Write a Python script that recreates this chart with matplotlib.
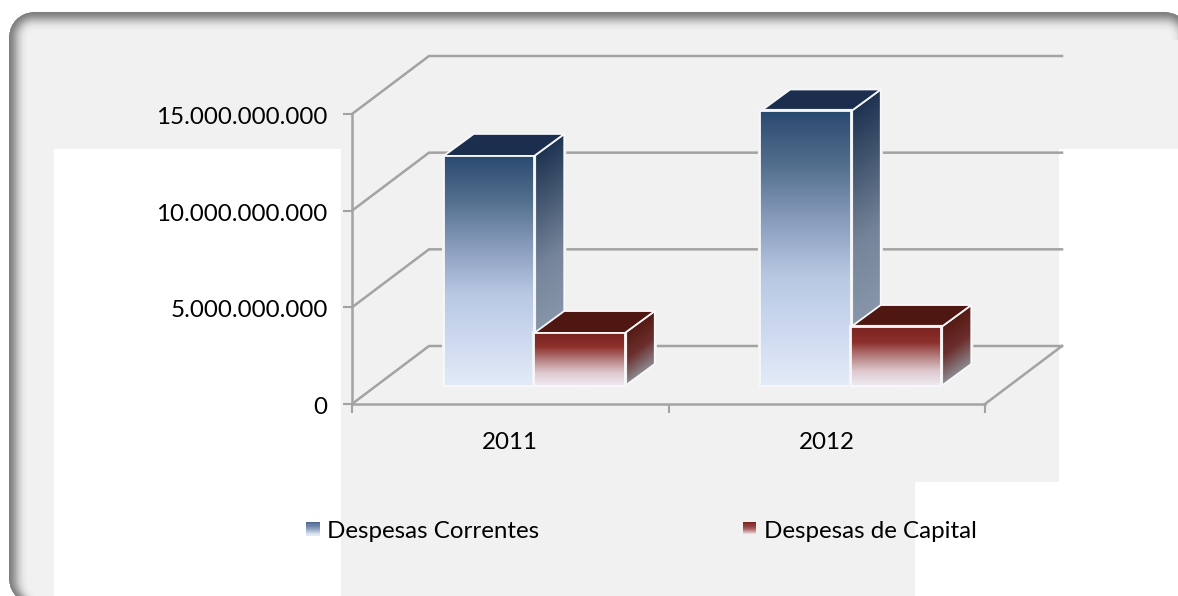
import numpy as np
import matplotlib
matplotlib.use("Agg")
import matplotlib.pyplot as plt
from matplotlib.colors import LinearSegmentedColormap
from matplotlib.legend_handler import HandlerBase
from matplotlib.patches import Polygon, Rectangle
from matplotlib.ticker import FuncFormatter
from matplotlib.transforms import Affine2D, IdentityTransform

# ---- data ----
years = ["2011", "2012"]
series_names = ["Despesas Correntes", "Despesas de Capital"]
despesas_correntes = [11.9e9, 14.2e9]
despesas_capital = [2.74e9, 3.05e9]
y_ticks = [0, 5e9, 10e9, 15e9]

# ---- styles ----
W, H = 1178, 596
FONT = "Lato"
FS = 17.4
AXC = "#a3a3a3"
BAR_W = 0.286
STYLES = [
    dict(front=["#2b4a70", "#54708f", "#8a9dbd", "#b8c8e3", "#cdd9f0", "#e3ebf7"],
         side=["#1d3350", "#75849a", "#95a3b5"], top="#1b2e4e"),
    dict(front=["#7a2422", "#8c2f2b", "#b57f7f", "#ddc8cd", "#eeeaf2"],
         side=["#551a14", "#6c2e2c", "#8a8a90"], top="#4e1712"),
]
LEG = [["#4f6a90", "#8fa3c2", "#dfe8f5"], ["#7a2422", "#a86060", "#f5eef0"]]

plt.rcParams["font.family"] = [FONT, "DejaVu Sans"]
fig = plt.figure(figsize=(W / 100, H / 100), dpi=100, facecolor="white")


# ---- panel background with the soft grey border and white cut-outs ----
def panel():
    yy, xx = np.mgrid[0:H, 0:W] + 0.5
    l, t, r, b, rad = 9, 12, 1190, 604, 25
    cx, cy = (l + r) / 2, (t + b) / 2
    qx = np.abs(xx - cx) - ((r - l) / 2 - rad)
    qy = np.abs(yy - cy) - ((b - t) / 2 - rad)
    sd = np.hypot(np.maximum(qx, 0), np.maximum(qy, 0)) + np.minimum(np.maximum(qx, qy), 0) - rad
    depth = -sd
    # no bottom band: below the corner centre measure from the curve sideways
    low = yy > b - rad
    depth[low] = xx[low] - (l + rad - np.sqrt(np.maximum(rad ** 2 - (yy[low] - (b - rad)) ** 2, 0)))
    f = np.interp(depth, [0, 3, 6, 10, 14, 19], [0.0, 0.12, 0.35, 0.68, 0.9, 1.0])
    g = 0.49 + (0.949 - 0.49) * f
    img = np.where(depth < 0, 1.0, g)
    edge = np.clip(depth + 0.5, 0, 1)
    img = img * edge + (1 - edge)
    img[(xx >= 1100) & (yy >= 40)] = 0.949
    img[(xx >= 54) & (xx < 341) & (yy >= 149)] = 1
    img[(xx >= 1059) & (yy >= 149)] = 1
    img[(xx >= 915) & (yy >= 482)] = 1
    return np.dstack([img, img, img])


fig.figimage(panel(), 0, 0, origin="upper", zorder=-5)

ax = fig.add_axes([352 / W, 1 - 404 / H, 633 / W, 290 / H])
ax.patch.set_visible(False)
ax.set_xlim(0, 2)
ax.set_ylim(0, 15e9)

# transforms: front plane, back wall, bar front, bar back
T = ax.transData
back = T + Affine2D().translate(77, 58)
bar_f = T + Affine2D().translate(24, 18)
bar_b = T + Affine2D().translate(54, 40)

for s in ("top", "right"):
    ax.spines[s].set_visible(False)
for s in ("left", "bottom"):
    ax.spines[s].set_color(AXC)
    ax.spines[s].set_linewidth(1.8)
ax.set_xticks([0, 1, 2])
ax.set_xticks([0.5, 1.5], minor=True)
ax.set_xticklabels([])
ax.set_xticklabels(years, minor=True, fontsize=FS, color="black")
ax.set_yticks(y_ticks)
ax.yaxis.set_major_formatter(FuncFormatter(lambda v, p: f"{int(v):,}".replace(",", ".")))
ax.tick_params(axis="y", length=6.5, width=1.5, color=AXC, pad=11, labelsize=FS)
ax.tick_params(axis="x", which="major", length=6.5, width=1.5, color=AXC)
ax.tick_params(axis="x", which="minor", length=0, pad=20, labelsize=FS)

# wall grid lines and floor
I = IdentityTransform()
for v in y_ticks:
    a = T.transform((0, v))
    b = back.transform((0, v))
    c = back.transform((2, v))
    ax.plot([a[0], b[0], c[0]], [a[1], b[1], c[1]], color=AXC, lw=1.8, transform=I,
            clip_on=False, zorder=1, solid_joinstyle="miter")
a = T.transform((2, 0))
b = back.transform((2, 0))
ax.plot([a[0], b[0]], [a[1], b[1]], color=AXC, lw=1.8, transform=I, clip_on=False, zorder=1)


def grad_face(pts, colors, y_top_at, height, z):
    """Fill polygon pts (display px) with a vertical gradient following the face's slope."""
    pts = np.asarray(pts)
    x0, x1 = pts[:, 0].min(), pts[:, 0].max()
    y0, y1 = pts[:, 1].min(), pts[:, 1].max()
    nx, ny = max(int(x1 - x0), 2), max(int(y1 - y0), 2)
    xs = np.linspace(x0, x1, nx)
    ys = np.linspace(y1, y0, ny)
    X, Y = np.meshgrid(xs, ys)
    frac = np.clip((y_top_at(X) - Y) / height, 0, 1)
    cmap = LinearSegmentedColormap.from_list("g", colors)
    ax.add_patch(Polygon(pts, closed=True, fill=False, edgecolor="#f2f2f2", lw=3, transform=I,
                         clip_on=False, zorder=z - 0.1))
    im = ax.imshow(cmap(frac), extent=[x0, x1, y0, y1], origin="upper", aspect="auto",
                   transform=I, zorder=z, interpolation="bilinear")
    im.set_clip_box(fig.bbox)
    im.set_clip_path(Polygon(pts, closed=True, transform=I))
    ax.add_patch(Polygon(pts, closed=True, fill=False, edgecolor="#f8f8fb", lw=1.3, transform=I,
                         clip_on=False, zorder=z + 0.1, joinstyle="miter"))


z = 2
for i in range(len(years)):
    for j, vals in enumerate([despesas_correntes, despesas_capital]):
        st = STYLES[j]
        x0 = i + 0.5 - BAR_W + j * BAR_W
        x1 = x0 + BAR_W
        v = vals[i]
        # side
        p0, p1 = bar_f.transform((x1, 0)), bar_f.transform((x1, v))
        p2, p3 = bar_b.transform((x1, v)), bar_b.transform((x1, 0))
        h = p1[1] - p0[1]
        slope = (p2[1] - p1[1]) / (p2[0] - p1[0])
        grad_face([p0, p1, p2, p3], st["side"],
                  lambda X, a=p1, s=slope: a[1] + (X - a[0]) * s, h, z)
        # top
        q0 = bar_f.transform((x0, v))
        q1 = bar_b.transform((x0, v))
        ax.add_patch(Polygon([q0, p1, p2, q1], closed=True, facecolor=st["top"], edgecolor="#f8f8fb",
                             lw=1.3, transform=I, clip_on=False, zorder=z + 0.2, joinstyle="miter"))
        # front
        f0 = bar_f.transform((x0, 0))
        grad_face([f0, q0, p1, p0], st["front"], lambda X, a=p1: a[1] + 0 * X, h, z + 0.3)
        z += 1

ax.set_xlim(0, 2)
ax.set_ylim(0, 15e9)

# nudge value labels down to sit on their ticks
for lab in ax.get_yticklabels():
    lab.set_transform(lab.get_transform() + Affine2D().translate(0, -1.5))


class GradHandler(HandlerBase):
    def __init__(self, colors):
        super().__init__()
        self.colors = colors

    def create_artists(self, legend, orig, xd, yd, width, height, fontsize, trans):
        cmap = LinearSegmentedColormap.from_list("l", self.colors)
        n = 12
        size = 9.4
        x = width - size
        y = (height - size) / 2
        return [Rectangle((x - xd, y - yd + size * (n - 1 - k) / n), size, size / n + 0.2,
                          facecolor=cmap(k / (n - 1)), edgecolor="none", transform=trans)
                for k in range(n)]


h1 = Rectangle((0, 0), 1, 1)
h2 = Rectangle((0, 0), 1, 1)
leg = ax.legend([h1, h2], series_names, handler_map={h1: GradHandler(LEG[0]), h2: GradHandler(LEG[1])},
                ncol=2, frameon=False, fontsize=FS, handlelength=0.56, handletextpad=0.31,
                columnspacing=8.42, borderpad=0, borderaxespad=0,
                loc="center left", bbox_to_anchor=(306, H - 531), bbox_transform=I)
for t in leg.get_texts():
    t.set_color("black")

fig.savefig("out.png", dpi=100, facecolor="white")
